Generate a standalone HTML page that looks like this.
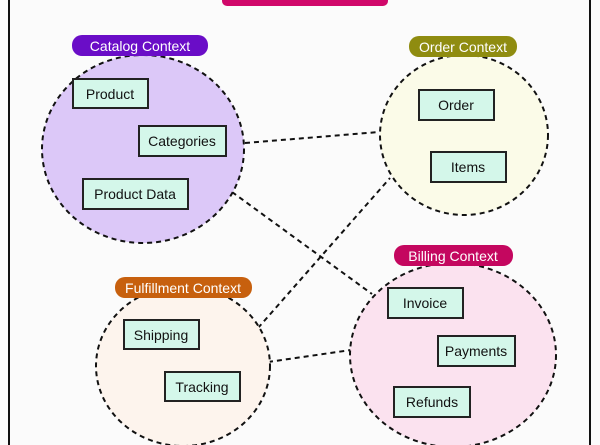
<!DOCTYPE html>
<html><head><style>body{margin:0;background:#fff}svg{display:block}</style></head><body>
<svg width="600" height="445" xmlns="http://www.w3.org/2000/svg" font-family="Liberation Sans, sans-serif">
<rect width="600" height="445" fill="#fbfbfb"/>
<line x1="9" y1="0" x2="9" y2="445" stroke="#111" stroke-width="2"/>
<line x1="590" y1="0" x2="590" y2="445" stroke="#111" stroke-width="2"/>
<rect x="222" y="-12" width="166" height="18" rx="5" fill="#d0086a"/>
<g stroke="#111" stroke-width="2" stroke-dasharray="5,4" fill="none">
<line x1="245" y1="143" x2="379" y2="132"/>
<line x1="232" y1="192" x2="372" y2="294"/>
<line x1="258" y1="328" x2="390" y2="178"/>
<line x1="268" y1="362" x2="351" y2="350"/>
</g>
<g stroke="#111" stroke-width="2" stroke-dasharray="5,4">
<ellipse cx="143" cy="149" rx="101" ry="94" fill="#dcc8f8"/>
<ellipse cx="464" cy="135" rx="84" ry="80" fill="#fbfbe8"/>
<ellipse cx="183" cy="366" rx="87" ry="80" fill="#fdf4ed"/>
<ellipse cx="453" cy="355" rx="103" ry="92" fill="#fbe2ef"/>
</g>
<g font-size="14" text-anchor="middle" fill="#fff">
<rect x="72" y="35" width="136" height="21" rx="10" fill="#6a0dc7"/><text x="140" y="51">Catalog Context</text>
<rect x="409" y="36" width="108" height="21" rx="10" fill="#8f8c10"/><text x="463" y="52">Order Context</text>
<rect x="115" y="277" width="137" height="21" rx="10" fill="#c7600e"/><text x="183" y="293">Fulfillment Context</text>
<rect x="394" y="245" width="119" height="21" rx="10" fill="#c4075f"/><text x="453" y="261">Billing Context</text>
</g>
<g stroke="#222" stroke-width="2" fill="#d4f7ea">
<rect x="73" y="79" width="75" height="29"/>
<rect x="139" y="126" width="87" height="30"/>
<rect x="83" y="179" width="105" height="30"/>
<rect x="419" y="90" width="75" height="30"/>
<rect x="431" y="152" width="75" height="30"/>
<rect x="124" y="320" width="75" height="29"/>
<rect x="165" y="372" width="75" height="29"/>
<rect x="388" y="288" width="75" height="30"/>
<rect x="438" y="336" width="77" height="30"/>
<rect x="394" y="387" width="76" height="30"/>
</g>
<g font-size="14" text-anchor="middle" fill="#111">
<text x="110" y="99">Product</text>
<text x="182" y="146">Categories</text>
<text x="135" y="199">Product Data</text>
<text x="456" y="110">Order</text>
<text x="468" y="172">Items</text>
<text x="161" y="340">Shipping</text>
<text x="202" y="392">Tracking</text>
<text x="425" y="308">Invoice</text>
<text x="476" y="356">Payments</text>
<text x="432" y="407">Refunds</text>
</g>
</svg>
</body></html>
